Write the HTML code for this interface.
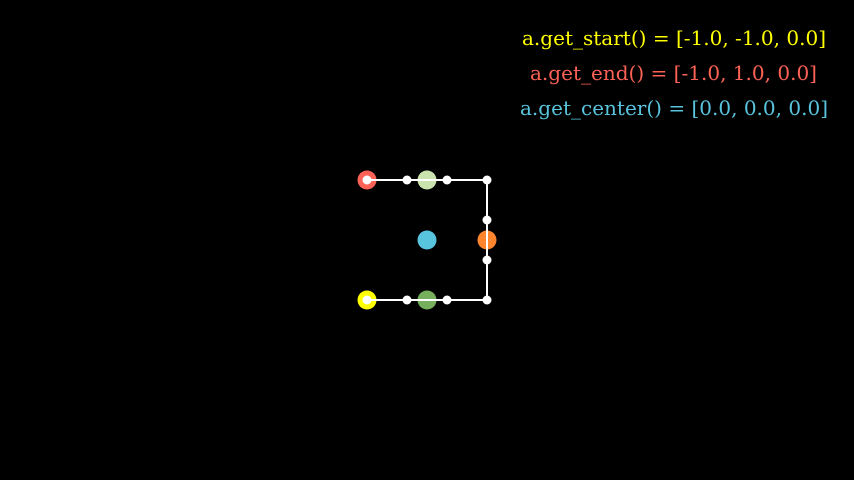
<!DOCTYPE html>
<html><head><meta charset="utf-8"><style>
html,body{margin:0;padding:0;background:#000;}
svg{display:block;}
text{font-family:"DejaVu Serif","Liberation Serif",serif;font-size:20px;}
</style></head><body>
<svg width="854" height="480" viewBox="0 0 854 480" xmlns="http://www.w3.org/2000/svg">
<rect width="854" height="480" fill="#000"/>
<text x="522" y="45" fill="#FFFF00" textLength="304" lengthAdjust="spacingAndGlyphs">a.get_start() = [-1.0, -1.0, 0.0]</text>
<text x="530" y="80" fill="#FC6255" textLength="287" lengthAdjust="spacingAndGlyphs">a.get_end() = [-1.0, 1.0, 0.0]</text>
<text x="520" y="115" fill="#58C4DD" textLength="308" lengthAdjust="spacingAndGlyphs">a.get_center() = [0.0, 0.0, 0.0]</text>
<circle cx="367" cy="180" r="9.5" fill="#FC6255"/>
<circle cx="367" cy="300" r="9.5" fill="#FFFF00"/>
<circle cx="427" cy="180" r="9.5" fill="#C9E2AE"/>
<circle cx="427" cy="300" r="9.5" fill="#77B05D"/>
<circle cx="487" cy="240" r="9.5" fill="#FF862F"/>
<circle cx="427" cy="240" r="9.5" fill="#58C4DD"/>
<polyline points="367,300 487,300 487,180 367,180" fill="none" stroke="#fff" stroke-width="2"/>
<g fill="#fff">
<circle cx="367" cy="180" r="4.5"/><circle cx="407" cy="180" r="4.5"/><circle cx="447" cy="180" r="4.5"/><circle cx="487" cy="180" r="4.5"/>
<circle cx="487" cy="220" r="4.5"/><circle cx="487" cy="260" r="4.5"/>
<circle cx="367" cy="300" r="4.5"/><circle cx="407" cy="300" r="4.5"/><circle cx="447" cy="300" r="4.5"/><circle cx="487" cy="300" r="4.5"/>
</g>
</svg>
</body></html>
